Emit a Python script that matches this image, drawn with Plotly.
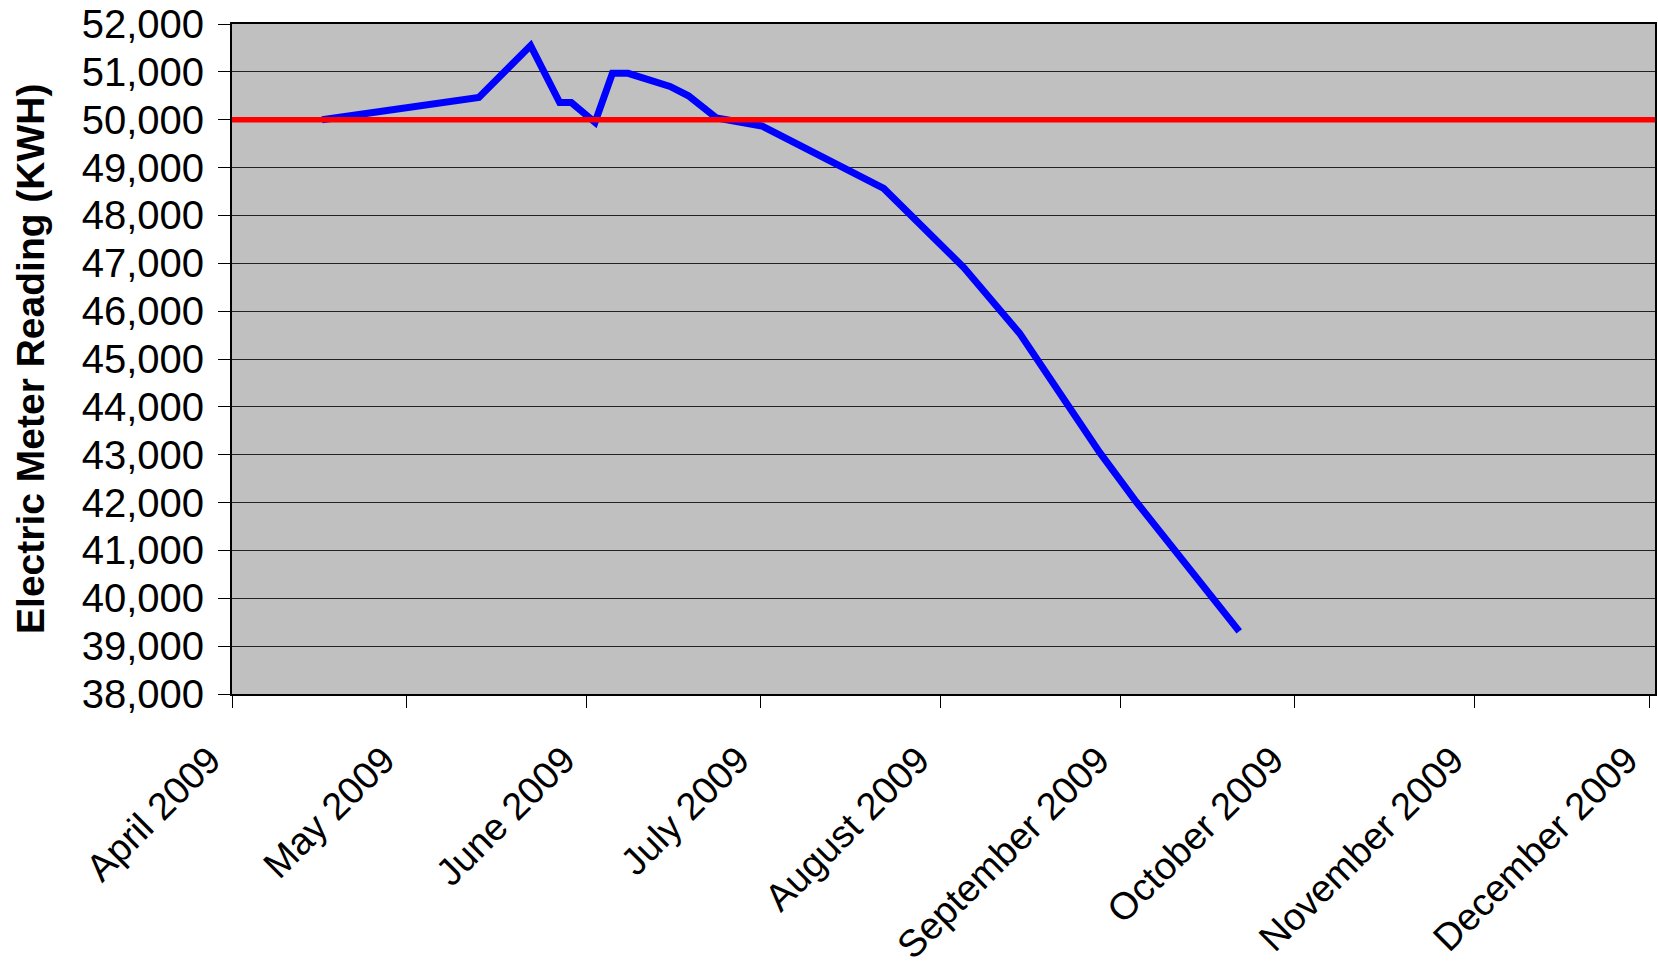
import plotly.graph_objects as go

# Meter readings
reading_dates = [
    "2009-04-16 12:00", "2009-05-13 12:00", "2009-05-22 10:00", "2009-05-27 10:00",
    "2009-05-29 10:00", "2009-06-02 12:00", "2009-06-05 12:00", "2009-06-08 05:00",
    "2009-06-15 10:00", "2009-06-18 14:00", "2009-06-23 10:00", "2009-07-01 05:00",
    "2009-07-22 05:00", "2009-08-05 00:00", "2009-08-14 14:00", "2009-08-28 10:00",
    "2009-09-03 17:00", "2009-09-21 10:00",
]
readings_kwh = [
    50000, 50466, 51550, 50360,
    50360, 49945, 50970, 50970,
    50695, 50500, 50035, 49870,
    48565, 46910, 45540, 43044,
    42012, 39310,
]

# Target line
target_dates = ["2009-04-01", "2009-12-02"]
target_kwh = [50000, 50000]

# Axis ticks
month_ticks = ["2009-04-01", "2009-05-01", "2009-06-01", "2009-07-01", "2009-08-01",
               "2009-09-01", "2009-10-01", "2009-11-01", "2009-12-01"]
month_labels = ["April 2009", "May 2009", "June 2009", "July 2009", "August 2009",
                "September 2009", "October 2009", "November 2009", "December 2009"]
y_ticks = list(range(38000, 52001, 1000))
y_labels = [f"{v:,}" for v in y_ticks]

FONT = "Liberation Sans, Arial, sans-serif"
PAD = "\u00a0" * 3

fig = go.Figure()
fig.add_trace(go.Scatter(x=reading_dates, y=readings_kwh, mode="lines",
                         line=dict(color="#0000FF", width=7), showlegend=False,
                         hoverinfo="skip"))
fig.add_trace(go.Scatter(x=target_dates, y=target_kwh, mode="lines",
                         line=dict(color="#FF0000", width=5.5), showlegend=False,
                         hoverinfo="skip", cliponaxis=False))

fig.update_layout(
    width=1658, height=961,
    margin=dict(l=232, r=3, t=24, b=267, pad=0),
    paper_bgcolor="white",
    plot_bgcolor="#C0C0C0",
    font=dict(family=FONT, size=39, color="black"),
    xaxis=dict(
        type="date",
        range=["2009-04-01", "2009-12-02"],
        tickvals=month_ticks, ticktext=[m + PAD for m in month_labels],
        tickangle=-45,
        ticks="outside", ticklen=12, tickwidth=1, tickcolor="black",
        ticklabelstandoff=-8,
        ticklabeloverflow="allow",
        automargin=False,
        showline=True, linecolor="black", linewidth=2, mirror=True,
        showgrid=False, zeroline=False,
        tickfont=dict(family=FONT, size=38, color="black"),
    ),
    yaxis=dict(
        range=[38000, 52000],
        tickvals=y_ticks, ticktext=y_labels,
        ticks="outside", ticklen=12, tickwidth=1, tickcolor="black",
        ticklabelstandoff=6,
        automargin=False,
        showline=True, linecolor="black", linewidth=2, mirror=True,
        showgrid=True, gridcolor="#222222", gridwidth=1,
        zeroline=False,
        tickfont=dict(family=FONT, size=40, color="black"),
    ),
    annotations=[dict(
        text="<b>Electric Meter Reading (KWH)</b>",
        xref="paper", yref="paper", x=-0.142, y=0.5,
        textangle=-90, showarrow=False, xanchor="center", yanchor="middle",
        font=dict(family=FONT, size=39, color="black"),
    )],
)

fig.write_html("out.html")
